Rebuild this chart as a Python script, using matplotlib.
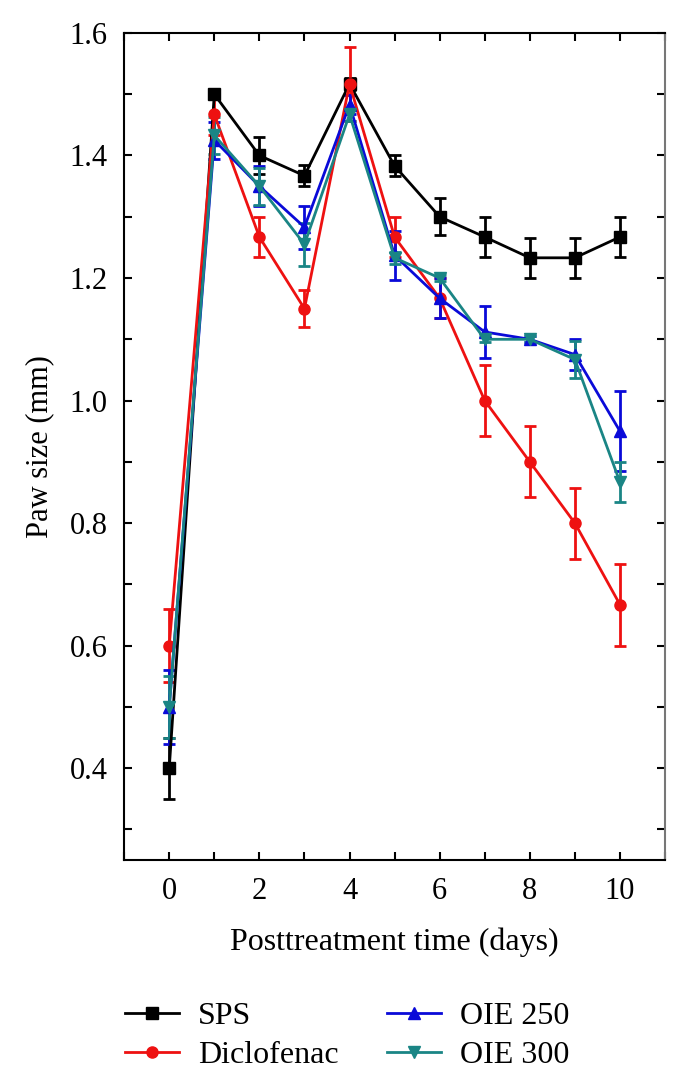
import matplotlib
matplotlib.use("Agg")
import matplotlib.pyplot as plt
from matplotlib.ticker import MultipleLocator
import numpy as np

days = [0, 1, 2, 3, 4, 5, 6, 7, 8, 9, 10]

sps = [0.400, 1.500, 1.400, 1.367, 1.517, 1.383, 1.300, 1.267, 1.233, 1.233, 1.267]
sps_err = [0.050, 0.005, 0.030, 0.017, 0.010, 0.017, 0.030, 0.033, 0.033, 0.033, 0.033]

diclo = [0.600, 1.467, 1.267, 1.150, 1.517, 1.267, 1.167, 1.000, 0.900, 0.800, 0.667]
diclo_err = [0.060, 0.033, 0.033, 0.030, 0.060, 0.033, 0.033, 0.058, 0.058, 0.058, 0.067]

oie250 = [0.500, 1.425, 1.350, 1.283, 1.483, 1.237, 1.167, 1.112, 1.100, 1.075, 0.950]
oie250_err = [0.060, 0.030, 0.033, 0.035, 0.015, 0.040, 0.033, 0.043, 0.005, 0.025, 0.065]

oie300 = [0.500, 1.433, 1.350, 1.255, 1.467, 1.233, 1.200, 1.100, 1.100, 1.067, 0.867]
oie300_err = [0.050, 0.030, 0.030, 0.035, 0.010, 0.010, 0.005, 0.005, 0.005, 0.030, 0.033]

series = [
    ("SPS", sps, sps_err, "black", "s"),
    ("Diclofenac", diclo, diclo_err, "#ee1111", "o"),
    ("OIE 250", oie250, oie250_err, "#0a0ad8", "^"),
    ("OIE 300", oie300, oie300_err, "#1a8585", "v"),
]

plt.rcParams["font.family"] = ["Liberation Serif", "DejaVu Serif"]

fig = plt.figure(figsize=(6.86, 10.81), dpi=100)
ax = fig.add_axes([0.181, 0.2044, 0.7884, 0.7651])

for label, y, err, c, m in series:
    ax.errorbar(days, y, yerr=err, color=c, marker=m, markersize=8, lw=2,
                elinewidth=2, capsize=4, capthick=2, label=label)

ax.set_xlim(-1, 11)
ax.set_ylim(0.25, 1.6)
ax.xaxis.set_major_locator(MultipleLocator(2))
ax.xaxis.set_minor_locator(MultipleLocator(1))
ax.yaxis.set_major_locator(MultipleLocator(0.2))
ax.yaxis.set_minor_locator(MultipleLocator(0.1))
ax.yaxis.set_major_formatter(plt.FormatStrFormatter("%.1f"))
ax.tick_params(which="both", direction="in", top=True, right=True, width=1.5)
ax.tick_params(which="major", length=6, labelsize=22)
ax.tick_params(which="minor", length=6)
ax.tick_params(axis="x", pad=12)
ax.tick_params(axis="y", pad=12)
for s in ax.spines.values():
    s.set_linewidth(1.5)
ax.spines["right"].set_color("#777777")

ax.set_xlabel("Posttreatment time (days)", fontsize=23, labelpad=16)
ax.set_ylabel("Paw size (mm)", fontsize=22, labelpad=11)

handles, labels = ax.get_legend_handles_labels()
handles = [h[0] for h in handles]
fig.legend(handles, labels, ncol=2, frameon=False, fontsize=23,
           loc="upper left", bbox_to_anchor=(0.182, 0.073),
           borderpad=0, borderaxespad=0,
           handlelength=1.7, columnspacing=1.5, labelspacing=0.3,
           handletextpad=0.6)

fig.savefig("out.png", dpi=100)
